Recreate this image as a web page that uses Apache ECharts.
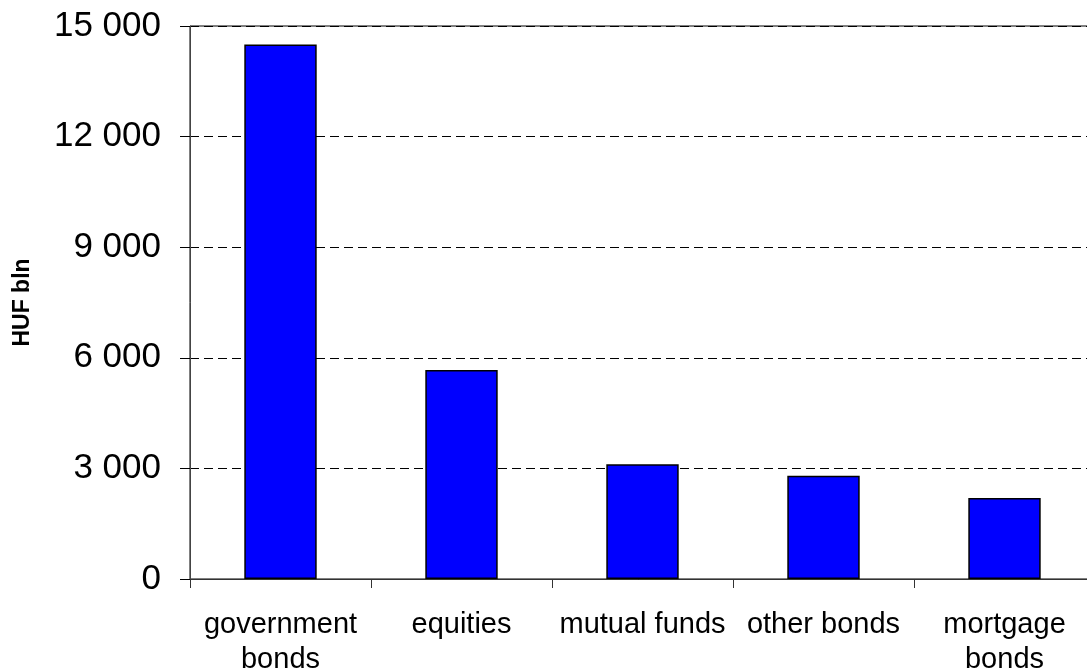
<!DOCTYPE html>
<html>
<head>
<meta charset="utf-8">
<script src="https://cdn.jsdelivr.net/npm/echarts@6/dist/echarts.min.js"></script>
<style>
  html, body { margin: 0; padding: 0; background: #fff; }
  #chart { width: 1087px; height: 669px; }
</style>
</head>
<body>
<div id="chart"></div>
<script>
const categories = ['government\nbonds', 'equities', 'mutual funds', 'other bonds', 'mortgage\nbonds']
const values = [14500, 5670, 3110, 2800, 2200]
const yMin = 0
const yMax = 15000
const yStep = 3000

// 15000 -> "15 000"
function fmt(v) {
  return String(v).replace(/\B(?=(\d{3})+(?!\d))/g, ' ')
}

const chart = echarts.init(document.getElementById('chart'))
const font = 'Liberation Sans, Arial, sans-serif'

chart.setOption({
  animation: false,
  grid: {
    left: 190, right: -8, top: 26, bottom: 90,
    show: true, borderColor: '#000', borderWidth: 1,
    outerBoundsMode: 'none'
  },
  xAxis: {
    type: 'category',
    data: categories,
    axisLine: { lineStyle: { color: '#333', width: 1 } },
    axisTick: { show: true, length: 9, lineStyle: { color: '#333' } },
    axisLabel: {
      interval: 0, color: '#000', fontFamily: font, fontSize: 29,
      lineHeight: 35, margin: 28
    }
  },
  yAxis: {
    type: 'value',
    min: yMin, max: yMax, interval: yStep,
    name: 'HUF bln',
    nameLocation: 'middle',
    nameGap: 156,
    nameTextStyle: { color: '#000', fontFamily: font, fontSize: 23, fontWeight: 'bold' },
    axisLine: { show: true, lineStyle: { color: '#444', width: 1 } },
    axisTick: { show: true, length: 10, lineStyle: { color: '#000' } },
    axisLabel: { color: '#000', fontFamily: font, fontSize: 35, margin: 29, formatter: fmt },
    splitLine: { show: true, lineStyle: { color: '#000', width: 1, type: [9, 5] } }
  },
  series: [{
    type: 'bar',
    data: values,
    barWidth: '40%',
    itemStyle: { color: '#0000ff', borderColor: '#000', borderWidth: 1.5 }
  }]
})
</script>
</body>
</html>
